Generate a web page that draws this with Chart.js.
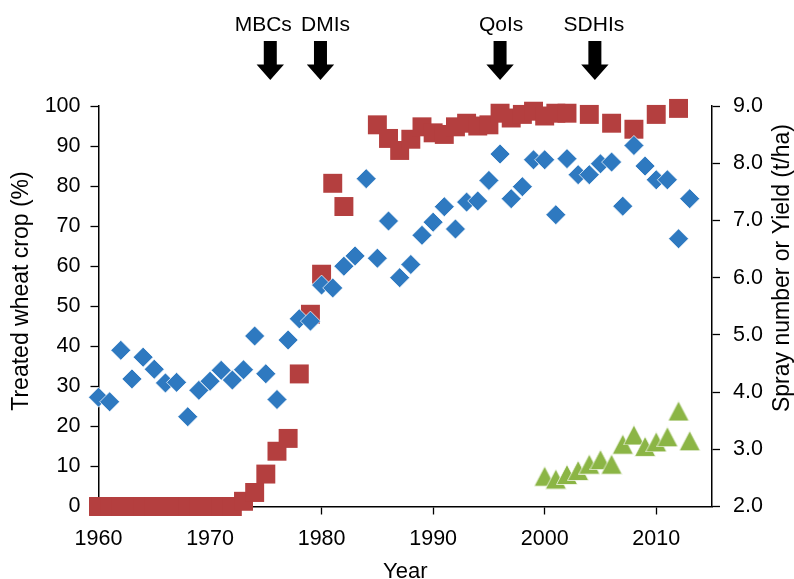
<!DOCTYPE html>
<html>
<head>
<meta charset="utf-8">
<script src="https://cdn.jsdelivr.net/npm/chart.js@4.4.1/dist/chart.umd.min.js"></script>
<style>
  html, body { margin: 0; padding: 0; background: #fff; }
  #wrap { width: 794px; height: 579px; }
</style>
</head>
<body>
<div id="wrap"><canvas id="grafico" width="794" height="579"></canvas></div>
<script>
// Datos
const years = [1960, 1961, 1962, 1963, 1964, 1965, 1966, 1967, 1968, 1969,
  1970, 1971, 1972, 1973, 1974, 1975, 1976, 1977, 1978, 1979,
  1980, 1981, 1982, 1983, 1984, 1985, 1986, 1987, 1988, 1989,
  1990, 1991, 1992, 1993, 1994, 1995, 1996, 1997, 1998, 1999,
  2000, 2001, 2002, 2003, 2004, 2005, 2006, 2007, 2008, 2009,
  2010, 2011, 2012, 2013];

// % del cultivo tratado (eje izquierdo)
const treatedPct = [0, 0, 0, 0, 0, 0, 0, 0, 0, 0,
  0, 0, 0, 1.3, 3.5, 8.1, 13.8, 17.0, 33.1, 48.0,
  58.0, 80.7, 74.9, null, null, 95.3, 91.9, 88.9, 91.7, 94.8,
  93.3, 92.9, 94.8, 95.7, 95.0, 95.3, 98.2, 97.0, 97.9, 98.7,
  97.5, 98.2, 98.2, null, 97.9, null, 95.7, null, 94.2, null,
  97.9, null, 99.4, null];

// Rendimiento t/ha (eje derecho)
const yieldTha = [3.91, 3.83, 4.73, 4.23, 4.61, 4.40, 4.16, 4.17, 3.57, 4.03,
  4.19, 4.38, 4.21, 4.39, 4.98, 4.32, 3.87, 4.91, 5.28, 5.24,
  5.87, 5.82, 6.20, 6.38, 7.73, 6.34, 6.99, 6.00, 6.23, 6.74,
  6.97, 7.24, 6.85, 7.32, 7.34, 7.70, 8.16, 7.38, 7.59, 8.06,
  8.06, 7.10, 8.08, 7.80, 7.80, 7.99, 8.02, 7.25, 8.31, 7.95,
  7.71, 7.71, 6.68, 7.38];

// Numero de aplicaciones (eje derecho)
const sprayYears = [2000, 2001, 2002, 2003, 2004, 2005, 2006, 2007, 2008, 2009, 2010, 2011, 2012, 2013];
const sprayNumber = [2.53, 2.48, 2.56, 2.63, 2.74, 2.82, 2.74, 3.09, 3.25, 3.05, 3.13, 3.22, 3.67, 3.15];

// Ticks
const xTicks = [1960, 1970, 1980, 1990, 2000, 2010];
const leftTicks = [0, 10, 20, 30, 40, 50, 60, 70, 80, 90, 100];
const rightTicks = [2, 3, 4, 5, 6, 7, 8, 9];

// Flechas de fungicidas
const arrowLabels = ['MBCs', 'DMIs', 'QoIs', 'SDHIs'];
const arrowYears = [1975.4, 1979.9, 1996.0, 2004.5];

const FONT = "'Liberation Sans', Arial, Helvetica, sans-serif";
const RED = '#b43f3f', BLUE = '#2e79c0', GREEN = '#8bb545';

function toPoints(xs, ys) {
  const pts = [];
  xs.forEach((x, i) => { if (ys[i] !== null) pts.push({ x: x, y: ys[i] }); });
  return pts;
}

// triangulo como imagen, centrado en el punto
function triangle(color) {
  const c = document.createElement('canvas');
  c.width = 22; c.height = 21;
  const g = c.getContext('2d');
  g.beginPath();
  g.moveTo(11, 0.5);
  g.lineTo(21.5, 20.5);
  g.lineTo(0.5, 20.5);
  g.closePath();
  g.fillStyle = color;
  g.fill();
  g.strokeStyle = 'rgba(255,255,255,0.7)';
  g.lineWidth = 1;
  g.stroke();
  return c;
}

const fixTicks = (list) => (scale) => { scale.ticks = list.map(v => ({ value: v })); };

const extras = {
  id: 'extras',
  afterDraw(chart) {
    const ctx = chart.ctx;
    const xs = chart.scales.x;
    const area = chart.chartArea;
    ctx.save();
    ctx.fillStyle = '#000';
    ctx.font = '21px ' + FONT;
    ctx.textAlign = 'center';
    ctx.textBaseline = 'alphabetic';
    // flechas
    const labelShift = [-7, 5, 1, -1];
    arrowYears.forEach((yr, i) => {
      const x = xs.getPixelForValue(yr);
      ctx.fillText(arrowLabels[i], x + labelShift[i], 31);
      ctx.beginPath();
      ctx.moveTo(x - 6.5, 41);
      ctx.lineTo(x + 6.5, 41);
      ctx.lineTo(x + 6.5, 64.5);
      ctx.lineTo(x + 13.7, 64.5);
      ctx.lineTo(x, 80);
      ctx.lineTo(x - 13.7, 64.5);
      ctx.lineTo(x - 6.5, 64.5);
      ctx.closePath();
      ctx.fill();
    });
    // titulos de ejes
    ctx.font = '22px ' + FONT;
    ctx.textBaseline = 'middle';
    ctx.fillText('Year', (area.left + area.right) / 2, 572);
    ctx.font = '23px ' + FONT;
    ctx.save();
    ctx.translate(22, 291);
    ctx.rotate(-Math.PI / 2);
    ctx.fillText('Treated wheat crop (%)', 0, 0);
    ctx.restore();
    ctx.save();
    ctx.translate(783, 268);
    ctx.rotate(-Math.PI / 2);
    ctx.fillText('Spray number or Yield (t/ha)', 0, 0);
    ctx.restore();
    ctx.restore();
  }
};

const axisGrid = { drawOnChartArea: false, color: '#000', tickLength: 8, tickWidth: 1.3 };
const axisBorder = { color: '#000', width: 1.5 };
const tickFont = { family: FONT, size: 21.5 };

new Chart(document.getElementById('grafico'), {
  type: 'scatter',
  data: {
    datasets: [
      {
        label: 'Yield',
        data: toPoints(years, yieldTha),
        yAxisID: 'y2',
        pointStyle: 'rectRot',
        pointRadius: 10,
        backgroundColor: BLUE,
        borderColor: 'rgba(255,255,255,0.75)',
        borderWidth: 1,
        clip: false
      },
      {
        label: 'Treated',
        data: toPoints(years, treatedPct),
        yAxisID: 'y',
        pointStyle: 'rect',
        pointRadius: 13.4,
        backgroundColor: RED,
        borderWidth: 0,
        clip: false
      },
      {
        label: 'Spray number',
        data: toPoints(sprayYears, sprayNumber),
        yAxisID: 'y2',
        pointStyle: triangle(GREEN),
        pointRadius: 10,
        backgroundColor: GREEN,
        borderWidth: 0,
        clip: false
      }
    ]
  },
  options: {
    responsive: false,
    animation: false,
    layout: { padding: { top: 106, left: 0, right: 0, bottom: 0 } },
    plugins: { legend: { display: false }, tooltip: { enabled: false } },
    scales: {
      x: {
        type: 'linear',
        min: 1960,
        max: 2015,
        afterBuildTicks: fixTicks(xTicks),
        afterFit: (s) => { s.height = 72.5; },
        grid: axisGrid,
        border: axisBorder,
        ticks: { color: '#000', font: tickFont, padding: 12, maxRotation: 0,
          callback: (v) => String(v) }
      },
      y: {
        position: 'left',
        min: 0,
        max: 100,
        afterBuildTicks: fixTicks(leftTicks),
        afterFit: (s) => { s.width = 98.5; },
        grid: axisGrid,
        border: axisBorder,
        ticks: { color: '#000', font: tickFont, padding: 10, callback: (v) => String(v) }
      },
      y2: {
        position: 'right',
        min: 2,
        max: 9,
        afterBuildTicks: fixTicks(rightTicks),
        afterFit: (s) => { s.width = 82; },
        grid: axisGrid,
        border: axisBorder,
        ticks: { color: '#000', font: tickFont, padding: 13, callback: (v) => v.toFixed(1) }
      }
    }
  },
  plugins: [extras]
});
</script>
</body>
</html>
